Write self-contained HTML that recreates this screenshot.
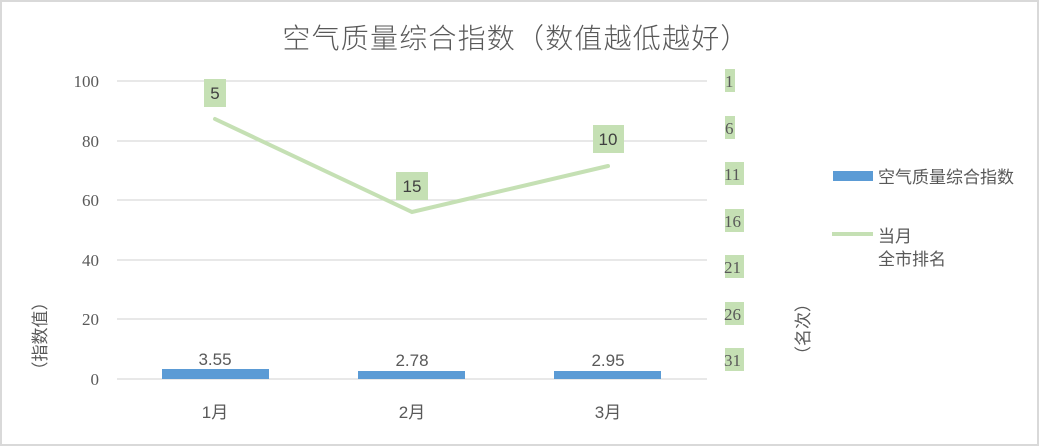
<!DOCTYPE html>
<html><head><meta charset="utf-8"><style>
html,body{margin:0;padding:0;background:#fff;}
svg{display:block;}
text{font-family:"Liberation Sans","Noto Sans CJK SC",sans-serif;fill:#595959;}
text.s{font-family:"Liberation Serif","Noto Sans CJK SC",serif;}
</style></head><body>
<svg width="1040" height="447" viewBox="0 0 1040 447">
<rect x="1" y="1" width="1037" height="444" fill="#fff" stroke="#d9d9d9" stroke-width="2"/>
<text x="516" y="48" font-size="28" text-anchor="middle" letter-spacing="1.2" style="font-family:'Noto Sans CJK SC',sans-serif;font-weight:300">空气质量综合指数（数值越低越好）</text>
<g stroke="#d9d9d9" stroke-width="1.3">
<line x1="117" x2="707" y1="81" y2="81"/>
<line x1="117" x2="707" y1="141" y2="141"/>
<line x1="117" x2="707" y1="200" y2="200"/>
<line x1="117" x2="707" y1="260" y2="260"/>
<line x1="117" x2="707" y1="319" y2="319"/>
<line x1="117" x2="707" y1="379" y2="379"/>
</g>
<g font-size="17" text-anchor="end">
<text class="s" x="99" y="87">100</text><text class="s" x="99" y="147">80</text><text class="s" x="99" y="206">60</text>
<text class="s" x="99" y="266">40</text><text class="s" x="99" y="325">20</text><text class="s" x="99" y="385">0</text>
</g>
<text transform="translate(46,336) rotate(-90)" font-size="17" text-anchor="middle">（指数值）</text>
<text transform="translate(809,329) rotate(-90)" font-size="17" text-anchor="middle">（名次）</text>
<rect x="162" y="369" width="107" height="10" fill="#5b9bd5"/>
<rect x="358" y="371" width="107" height="8" fill="#5b9bd5"/>
<rect x="554" y="371" width="107" height="8" fill="#5b9bd5"/>
<g font-size="17" text-anchor="middle">
<text x="215" y="365">3.55</text><text x="412" y="366">2.78</text><text x="608" y="366">2.95</text>
<text x="215" y="418">1月</text><text x="412" y="418">2月</text><text x="608" y="418">3月</text>
</g>
<polyline points="215,119 412,212 608,166" fill="none" stroke="#c5e0b4" stroke-width="4" stroke-linecap="round"/>
<g fill="#c5e0b4">
<rect x="204" y="79" width="22" height="28"/>
<rect x="396" y="172" width="32" height="28"/>
<rect x="593" y="125" width="31" height="28"/>
<rect x="725" y="69" width="10" height="23"/>
<rect x="725" y="116" width="10" height="23"/>
<rect x="725" y="162" width="19" height="23"/>
<rect x="725" y="209" width="19" height="23"/>
<rect x="725" y="255" width="19" height="23"/>
<rect x="725" y="302" width="19" height="23"/>
<rect x="725" y="348" width="19" height="23"/>
</g>
<g font-size="17" text-anchor="middle">
<text x="215" y="99" style="fill:#404040">5</text>
<text x="412" y="192" style="fill:#404040">15</text>
<text x="608" y="145" style="fill:#404040">10</text>
</g>
<g font-size="17">
<text class="s" x="725" y="87">1</text><text class="s" x="725" y="134">6</text><text class="s" x="724" y="180">11</text>
<text class="s" x="724" y="227">16</text><text class="s" x="724" y="273">21</text><text class="s" x="724" y="320">26</text><text class="s" x="724" y="366">31</text>
</g>
<rect x="833" y="171" width="40" height="10" fill="#5b9bd5"/>
<line x1="832" x2="873" y1="234" y2="234" stroke="#c5e0b4" stroke-width="4"/>
<g font-size="17">
<text x="878" y="183">空气质量综合指数</text>
<text x="878" y="242">当月</text>
<text x="878" y="265">全市排名</text>
</g>
</svg>
</body></html>
